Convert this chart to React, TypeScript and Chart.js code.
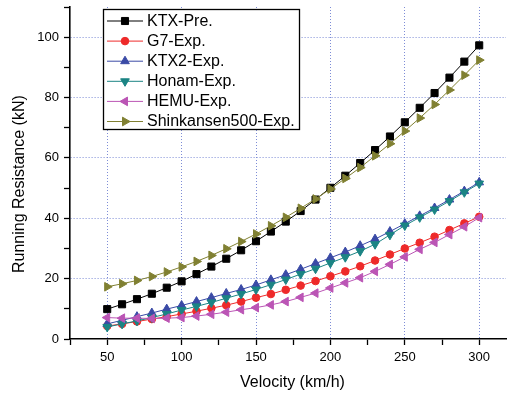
import React, { useEffect, useRef } from 'react';
import { Chart, registerables } from 'chart.js';

Chart.register(...registerables);

const velocity = [50, 60, 70, 80, 90, 100, 110, 120, 130, 140, 150, 160, 170, 180, 190, 200, 210, 220, 230, 240, 250, 260, 270, 280, 290, 300];

const ktxPre = [9.9, 11.5, 13.2, 15.0, 17.0, 19.1, 21.5, 24.0, 26.6, 29.4, 32.4, 35.6, 38.9, 42.4, 46.2, 50.1, 54.1, 58.3, 62.6, 67.1, 71.8, 76.6, 81.5, 86.6, 91.9, 97.3];
const g7Exp = [4.3, 5.0, 5.8, 6.6, 7.4, 8.3, 9.2, 10.2, 11.2, 12.4, 13.7, 14.9, 16.3, 17.7, 19.2, 20.8, 22.4, 24.1, 26.0, 28.0, 30.0, 31.9, 33.9, 36.1, 38.3, 40.5];
const ktx2Exp = [5.0, 6.2, 7.4, 8.6, 9.9, 11.1, 12.4, 13.7, 15.1, 16.4, 17.9, 19.6, 21.3, 23.1, 25.0, 26.9, 28.8, 30.9, 33.1, 35.6, 38.2, 40.8, 43.4, 46.2, 49.0, 51.9];
const honamExp = [4.0, 5.0, 6.0, 7.1, 8.3, 9.6, 10.8, 12.1, 13.5, 14.9, 16.4, 18.0, 19.7, 21.5, 23.3, 25.2, 27.1, 29.1, 31.4, 34.5, 37.6, 40.3, 42.9, 45.7, 48.6, 51.5];
const hemuExp = [7.1, 6.9, 6.9, 6.8, 6.9, 7.1, 7.6, 8.2, 8.9, 9.7, 10.4, 11.3, 12.4, 13.8, 15.2, 16.9, 18.6, 20.3, 22.4, 24.7, 27.2, 29.7, 32.0, 34.6, 37.2, 40.2];
const shinkansen500Exp = [17.3, 18.3, 19.4, 20.7, 22.2, 23.9, 25.7, 27.7, 29.9, 32.3, 34.8, 37.5, 40.3, 43.3, 46.4, 49.7, 53.2, 56.8, 60.7, 64.7, 68.9, 73.2, 77.7, 82.5, 87.4, 92.4];

const seriesNames = ['KTX-Pre.', 'G7-Exp.', 'KTX2-Exp.', 'Honam-Exp.', 'HEMU-Exp.', 'Shinkansen500-Exp.'];

const xTickValues = [25, 50, 75, 100, 125, 150, 175, 200, 225, 250, 275, 300];
const xLabelValues = [50, 100, 150, 200, 250, 300];
const yTickValues = [0, 10, 20, 30, 40, 50, 60, 70, 80, 90, 100, 110];
const yLabelValues = [0, 20, 40, 60, 80, 100];

const FONT = '"Liberation Sans", Arial, Helvetica, sans-serif';
const GRID = '#7d8cd6';

function drawMarker(ctx: CanvasRenderingContext2D, style: string, rotation: number, r: number, x: number, y: number) {
  ctx.beginPath();
  if (style === 'rect') {
    const s = r * Math.SQRT1_2;
    ctx.rect(x - s, y - s, 2 * s, 2 * s);
  } else if (style === 'circle') {
    ctx.arc(x, y, r, 0, Math.PI * 2);
  } else {
    let rad = (rotation * Math.PI) / 180;
    for (let k = 0; k < 3; k++) {
      const px = x + Math.sin(rad) * r;
      const py = y - Math.cos(rad) * r;
      if (k === 0) ctx.moveTo(px, py);
      else ctx.lineTo(px, py);
      rad += (2 * Math.PI) / 3;
    }
    ctx.closePath();
  }
  ctx.fill();
  ctx.stroke();
}

const legendPlugin = {
  id: 'boxLegend',
  afterDraw(chart: any) {
    const ctx: CanvasRenderingContext2D = chart.ctx;
    const left = 103.5, top = 9.5, right = 299.5, bottom = 129.5;
    ctx.save();
    ctx.fillStyle = '#ffffff';
    ctx.fillRect(left, top, right - left, bottom - top);
    ctx.strokeStyle = '#000';
    ctx.lineWidth = 1.3;
    ctx.strokeRect(left, top, right - left, bottom - top);
    chart.data.datasets.forEach((ds: any, i: number) => {
      const y = 21 + i * 20.1;
      ctx.strokeStyle = ds.borderColor;
      ctx.fillStyle = ds.backgroundColor;
      ctx.lineWidth = 1;
      ctx.beginPath();
      ctx.moveTo(107, y);
      ctx.lineTo(143, y);
      ctx.stroke();
      drawMarker(ctx, ds.pointStyle, ds.pointRotation || 0, ds.pointRadius, 125, y);
      ctx.fillStyle = '#000';
      ctx.font = `16px ${FONT}`;
      ctx.textBaseline = 'middle';
      ctx.textAlign = 'left';
      ctx.fillText(ds.label, 147, y + 0.5);
    });
    ctx.restore();
  },
};

function makeDataset(label: string, values: number[], color: string, pointStyle: string, rotation: number, radius: number, order: number) {
  return {
    label,
    data: velocity.map((v, i) => ({ x: v, y: values[i] })),
    borderColor: color,
    backgroundColor: color,
    borderWidth: 1,
    pointStyle,
    pointRotation: rotation,
    pointRadius: radius,
    pointBorderWidth: 1,
    pointBorderColor: color,
    pointBackgroundColor: color,
    tension: 0,
    order,
  };
}

export default function App() {
  const canvasRef = useRef<HTMLCanvasElement | null>(null);

  useEffect(() => {
    document.body.style.margin = '0';
    const canvas = canvasRef.current;
    if (!canvas) return;
    Chart.defaults.font.family = FONT;
    const chart = new Chart(canvas, {
      type: 'line',
      data: {
        datasets: [
          makeDataset(seriesNames[0], ktxPre, '#000000', 'rect', 0, 5, 6),
          makeDataset(seriesNames[1], g7Exp, '#ee2a2a', 'circle', 0, 3.8, 5),
          makeDataset(seriesNames[2], ktx2Exp, '#3a4aa6', 'triangle', 0, 5, 4),
          makeDataset(seriesNames[3], honamExp, '#1b8484', 'triangle', 180, 5, 3),
          makeDataset(seriesNames[4], hemuExp, '#bb55b5', 'triangle', -90, 5, 2),
          makeDataset(seriesNames[5], shinkansen500Exp, '#808032', 'triangle', 90, 5, 1),
        ] as any,
      },
      options: {
        responsive: false,
        animation: false,
        layout: { padding: { top: 7, right: 2, left: 0, bottom: 0 } },
        plugins: { legend: { display: false }, tooltip: { enabled: false } },
        scales: {
          x: {
            type: 'linear',
            min: 25,
            max: 318,
            afterBuildTicks: (s: any) => {
              s.ticks = xTickValues.map((v) => ({ value: v }));
            },
            afterFit: (s: any) => {
              s.height = 55;
              s.paddingLeft = 0;
              s.paddingRight = 0;
            },
            ticks: {
              autoSkip: false,
              maxRotation: 0,
              padding: 5,
              color: '#000',
              font: { size: 13, family: FONT },
              callback: (v: any) => (xLabelValues.includes(Number(v)) ? String(v) : ''),
            },
            grid: {
              color: (c: any) => (c.tick && xLabelValues.includes(c.tick.value) ? GRID : 'rgba(0,0,0,0)'),
              lineWidth: 1,
              tickColor: '#000',
              tickLength: 6,
              tickWidth: 1.3,
            },
            border: { color: '#000', width: 1.6, dash: [1, 2] },
            title: {
              display: true,
              text: '  Velocity (km/h)',
              color: '#000',
              font: { size: 16, family: FONT },
              padding: { top: 0, bottom: 2 },
            },
          },
          y: {
            type: 'linear',
            min: 0,
            max: 110,
            afterBuildTicks: (s: any) => {
              s.ticks = yTickValues.map((v) => ({ value: v }));
            },
            afterFit: (s: any) => {
              s.width = 70;
              s.paddingTop = 0;
              s.paddingBottom = 0;
            },
            ticks: {
              autoSkip: false,
              padding: 5,
              color: '#000',
              font: { size: 13, family: FONT },
              callback: (v: any) => (yLabelValues.includes(Number(v)) ? String(v) : ''),
            },
            grid: {
              color: (c: any) => (c.tick && c.tick.value !== 0 && yLabelValues.includes(c.tick.value) ? GRID : 'rgba(0,0,0,0)'),
              lineWidth: 1,
              tickColor: '#000',
              tickLength: 6,
              tickWidth: 1.3,
            },
            border: { color: '#000', width: 1.6, dash: [1, 2] },
            title: {
              display: true,
              text: 'Running Resistance (kN)     ',
              color: '#000',
              font: { size: 16, family: FONT },
              padding: { top: 10, bottom: 0 },
            },
          },
        },
      } as any,
      plugins: [legendPlugin],
    });
    return () => chart.destroy();
  }, []);

  return (
    <div style={{ position: 'fixed', left: 0, top: 0, width: 512, height: 394, background: '#fff' }}>
      <canvas ref={canvasRef} width={512} height={394} />
    </div>
  );
}
